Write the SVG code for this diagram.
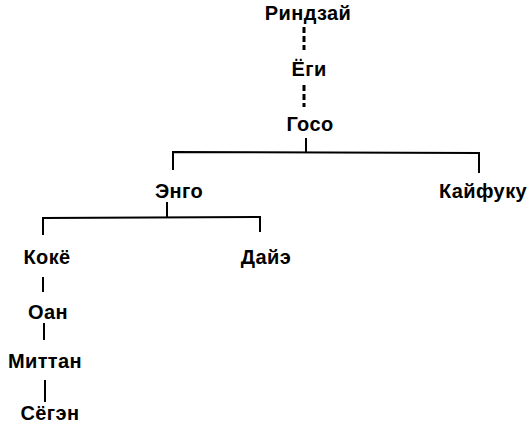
<svg xmlns="http://www.w3.org/2000/svg" width="530" height="424" viewBox="0 0 530 424">
<style>
text{font-family:"Liberation Sans",Arial,sans-serif;font-weight:bold;font-size:20px;letter-spacing:0.4px;fill:#000;text-anchor:middle}
.c{stroke:#000;stroke-width:2;fill:none}
.d{stroke-width:3;stroke-dasharray:6,3}
</style>
<rect width="530" height="424" fill="#fff"/>
<g id="connectors">
<line class="c d" x1="304" y1="27" x2="304" y2="50"/>
<line class="c d" x1="304" y1="85" x2="304" y2="107"/>
<polyline class="c" points="306,138 306,152"/>
<polyline class="c" points="173,170 173,152 479,153 479,173"/>
<polyline class="c" points="167,202 167,218"/>
<polyline class="c" points="43,235 43,218 260,217 260,232"/>
<line class="c" x1="43" y1="277" x2="43" y2="292"/>
<line class="c" x1="44" y1="323" x2="44" y2="340"/>
<line class="c" x1="45" y1="380" x2="45" y2="402"/>
</g>
<g id="rinzai"><text x="308" y="20">Риндзай</text></g>
<g id="yogi"><text x="309" y="76">Ёги</text></g>
<g id="goso"><text x="310" y="131">Госо</text></g>
<g id="engo"><text x="179" y="198">Энго</text></g>
<g id="kaifuku"><text x="483" y="198">Кайфуку</text></g>
<g id="koke"><text x="47" y="264">Кокё</text></g>
<g id="daie"><text x="266" y="264">Дайэ</text></g>
<g id="oan"><text x="48" y="319">Оан</text></g>
<g id="mittan"><text x="45" y="368">Миттан</text></g>
<g id="segen"><text x="50" y="420">Сёгэн</text></g>
</svg>
